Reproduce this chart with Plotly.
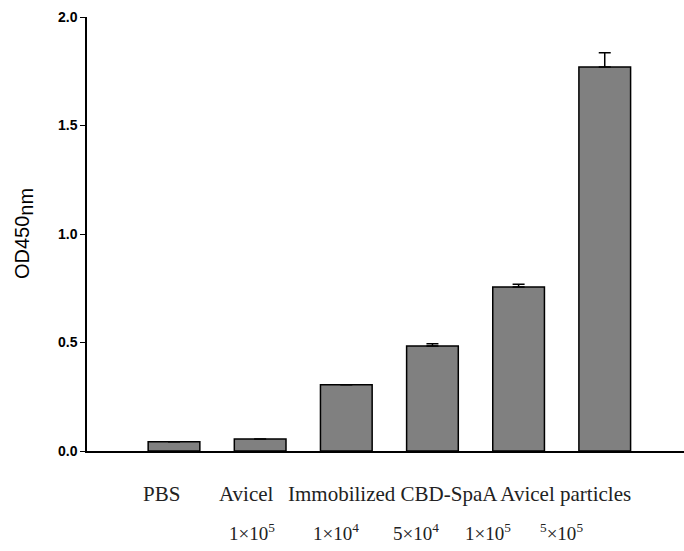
import plotly.graph_objects as go

# OD450 readings per sample group
groups = ["PBS", "Avicel", "CBD-SpaA 1e4", "CBD-SpaA 5e4", "CBD-SpaA 1e5", "CBD-SpaA 5e5"]
od450 = [0.043, 0.055, 0.305, 0.484, 0.756, 1.77]
err_up = [None, None, None, 0.010, 0.012, 0.065]

# Group captions (first row) and dose captions (second row), with x in category units
row1_text = ["PBS", "Avicel", "Immobilized CBD-SpaA Avicel particles"]
row1_x = [-0.14, 0.84, 3.31]
row2_text = ["1×10<sup>5</sup>", "1×10<sup>4</sup>", "5×10<sup>4</sup>", "1×10<sup>5</sup>", "<sup>5</sup>×10<sup>5</sup>"]
row2_x = [0.9, 1.88, 2.81, 3.64, 4.5]

fig = go.Figure()
fig.add_trace(go.Bar(
    x=list(range(len(groups))),
    y=od450,
    width=0.6,
    marker=dict(color="#808080", line=dict(color="#000000", width=1.5)),
    error_y=dict(type="data", symmetric=False, array=err_up,
                 arrayminus=[0] * len(err_up), color="#000000",
                 thickness=1.5, width=6),
    hoverinfo="skip",
))

plot_top, plot_bottom, plot_left, plot_right = 17, 451, 87, 684


def paper_y(px):
    return (plot_bottom - px) / (plot_bottom - plot_top)


annotations = []
for t, x in zip(row1_text, row1_x):
    annotations.append(dict(x=x, y=paper_y(494), xref="x", yref="paper", text=t,
                            showarrow=False, yanchor="middle", xanchor="center",
                            font=dict(family="Liberation Serif", size=21, color="#222")))
for t, x in zip(row2_text, row2_x):
    annotations.append(dict(x=x, y=paper_y(532), xref="x", yref="paper", text=t,
                            showarrow=False, yanchor="middle", xanchor="center",
                            font=dict(family="Liberation Serif", size=19, color="#222")))

annotations.append(dict(
    x=(24 - plot_left) / (plot_right - plot_left), y=paper_y(234),
    xref="paper", yref="paper",
    text="OD450<sub><span style='font-size:20px'>nm</span></sub>",
    showarrow=False, textangle=-90, xanchor="center", yanchor="middle",
    font=dict(family="Liberation Sans", size=20, color="#000")))

fig.update_layout(
    width=684, height=551,
    margin=dict(l=plot_left, r=0, t=plot_top, b=551 - plot_bottom),
    paper_bgcolor="white", plot_bgcolor="white",
    showlegend=False,
    annotations=annotations,
    xaxis=dict(range=[-1.01, 5.92], showticklabels=False, ticks="",
               showgrid=False, zeroline=False, showline=True,
               linecolor="#000", linewidth=1.5),
    yaxis=dict(range=[0, 2.0], tickvals=[0, 0.5, 1.0, 1.5, 2.0],
               ticktext=["<b>0.0</b>", "<b>0.5</b>", "<b>1.0</b>", "<b>1.5</b>", "<b>2.0</b>"],
               ticks="outside", ticklen=5, tickcolor="#000", tickwidth=1,
               showgrid=False, zeroline=False, showline=True,
               linecolor="#000", linewidth=1.5,
               tickfont=dict(family="Liberation Sans", size=14, color="#000")),
)
fig.write_html("out.html")
